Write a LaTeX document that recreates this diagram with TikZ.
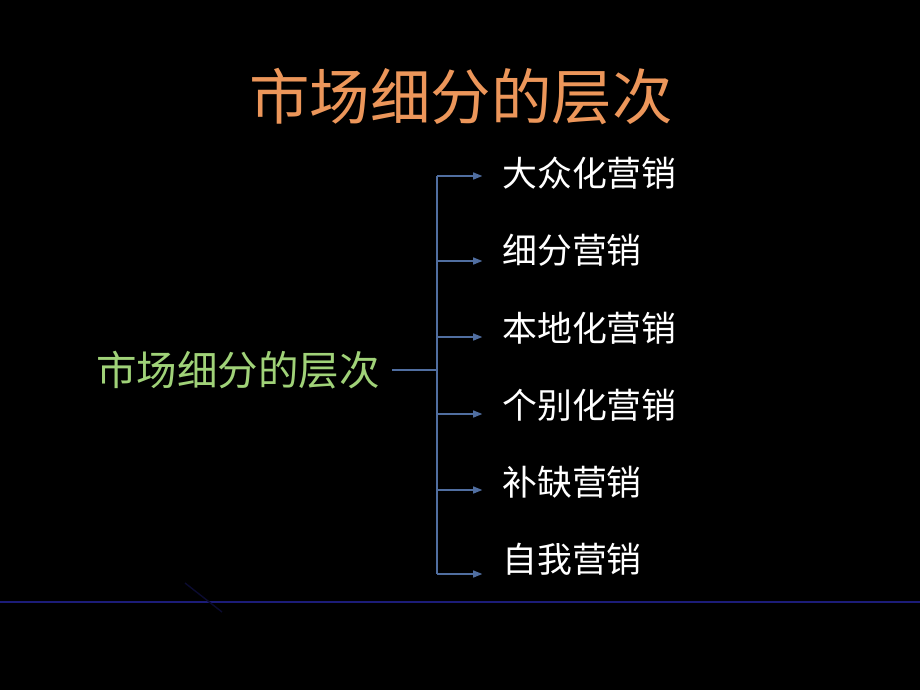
\documentclass[tikz,border=0pt]{standalone}
\usepackage{fontspec}
\setmainfont{Noto Sans CJK SC}
\usetikzlibrary{arrows.meta}
\definecolor{titleorange}{RGB}{236,150,90}
\definecolor{labelgreen}{RGB}{160,210,120}
\definecolor{linkblue}{RGB}{80,110,160}
\definecolor{floorblue}{RGB}{28,28,120}
\tikzset{
  item/.style={anchor=west, inner sep=0pt, text=white, font=\fontsize{24.8pt}{26pt}\selectfont},
  link/.style={draw=linkblue, line width=0.9pt},
  arr/.style={link, -{Triangle[length=6.5pt,width=5pt]}, shorten >=14pt}
}
\begin{document}
\begin{tikzpicture}[x=0.025cm, y=-0.025cm]
    \useasboundingbox (0,0) rectangle (920,690);
    \fill[black] (-5,-5) rectangle (925,695);
    % title and root
    \node[text=titleorange, font=\fontsize{43pt}{45pt}\selectfont, inner sep=0pt] (title) at (461,97) {市场细分的层次};
    \node[text=labelgreen, font=\fontsize{28.8pt}{30pt}\selectfont, anchor=east, inner xsep=8.5pt, inner ysep=0pt] (root) at (392,370) {市场细分的层次};
    % levels
    \node[item] (mass) at (502,173) {大众化营销};
    \node[item] (segment) at (502,250) {细分营销};
    \node[item] (local) at (502,328) {本地化营销};
    \node[item] (indiv) at (502,405) {个别化营销};
    \node[item] (niche) at (502,482) {补缺营销};
    \node[item] (self) at (502,559) {自我营销};
    % bracket
    \coordinate (b1) at (437,176);
    \coordinate (b2) at (437,261);
    \coordinate (b3) at (437,337);
    \coordinate (b4) at (437,414);
    \coordinate (b5) at (437,490);
    \coordinate (b6) at (437,574);
    \draw[link] (root.east) -- (root.east -| b1);
    \draw[link] (b1) -- (b6);
    \draw[arr] (b1) -- (b1 -| mass.west);
    \draw[arr] (b2) -- (b2 -| segment.west);
    \draw[arr] (b3) -- (b3 -| local.west);
    \draw[arr] (b4) -- (b4 -| indiv.west);
    \draw[arr] (b5) -- (b5 -| niche.west);
    \draw[arr] (b6) -- (b6 -| self.west);
    % floor line
    \draw[draw=floorblue, line width=2pt] (0,602) -- (920,602);
    \draw[draw=floorblue!40!black, line width=1pt] (185,583) -- (222,612);
\end{tikzpicture}
\end{document}
